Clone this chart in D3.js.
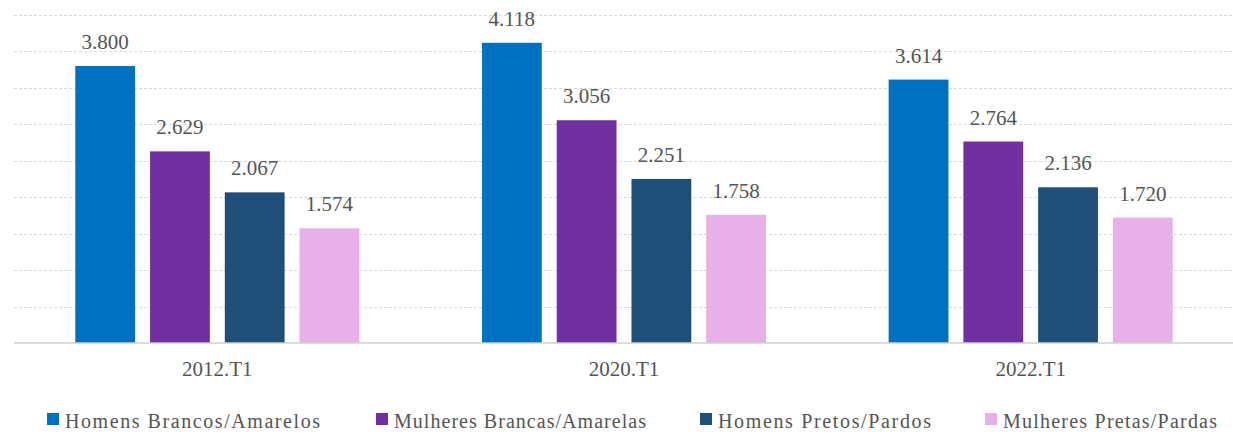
<!DOCTYPE html>
<html>
<head>
<meta charset="utf-8">
<script src="https://cdn.jsdelivr.net/npm/d3@7"></script>
</head>
<body style="margin:0">
<svg id="chart" width="1233" height="435"></svg>
<script>
const categories = ["2012.T1", "2020.T1", "2022.T1"];
const seriesNames = ["Homens Brancos/Amarelos", "Mulheres Brancas/Amarelas", "Homens Pretos/Pardos", "Mulheres Pretas/Pardas"];
const homensBrancos = [3800, 4118, 3614];
const mulheresBrancas = [2629, 3056, 2764];
const homensPretos = [2067, 2251, 2136];
const mulheresPretas = [1574, 1758, 1720];
const seriesColors = ["#0070C0", "#7030A0", "#1F4E79", "#E8B0E8"];
const yTicks = [0, 500, 1000, 1500, 2000, 2500, 3000, 3500, 4000, 4500];

const seriesValues = [homensBrancos, mulheresBrancas, homensPretos, mulheresPretas];
const fmt = v => d3.format(",")(v).replace(/,/g, ".");
const FONT = '"Liberation Serif"';
const TXT = "#555555";

// layout constants
const plotLeft = 14, plotRight = 1234, plotTop = 15, plotBottom = 343;
const legendStart = [47, 376, 700, 985];
const legendTextLen = [255, 252, 213, 214];

const svg = d3.select("#chart");

const x0 = d3.scaleBand().domain(categories).range([plotLeft, plotRight]).padding(0);
const x1 = d3.scaleBand().domain(d3.range(seriesNames.length))
  .range([0, x0.bandwidth()]).paddingInner(0.2).paddingOuter(0.82);
const y = d3.scaleLinear().domain([0, 4500]).range([plotBottom, plotTop]);

// gridlines
svg.append("g").selectAll("line").data(yTicks.filter(t => t > 0)).join("line")
  .attr("x1", plotLeft).attr("x2", 1233)
  .attr("y1", d => Math.round(y(d)) + 0.5).attr("y2", d => Math.round(y(d)) + 0.5)
  .attr("stroke", "#d9d9d9").attr("stroke-width", 1).attr("stroke-dasharray", "3,2");

// bars
const groups = svg.append("g").selectAll("g").data(categories).join("g")
  .attr("transform", c => `translate(${x0(c)},0)`);

groups.selectAll("rect").data((c, ci) => seriesValues.map((vals, si) => ({si, v: vals[ci]}))).join("rect")
  .attr("x", d => x1(d.si)).attr("width", x1.bandwidth())
  .attr("y", d => y(d.v)).attr("height", d => y(0) - y(d.v))
  .attr("fill", d => seriesColors[d.si]);

groups.selectAll("text.val").data((c, ci) => seriesValues.map((vals, si) => ({si, v: vals[ci]}))).join("text")
  .attr("class", "val")
  .attr("x", d => x1(d.si) + x1.bandwidth() / 2)
  .attr("y", d => y(d.v) - 17)
  .attr("text-anchor", "middle")
  .attr("font-family", FONT).attr("font-size", 21)
  .attr("fill", TXT)
  .text(d => fmt(d.v));

// category labels
svg.append("g").selectAll("text").data(categories).join("text")
  .attr("x", c => x0(c) + x0.bandwidth() / 2)
  .attr("y", plotBottom + 33)
  .attr("text-anchor", "middle")
  .attr("font-family", FONT).attr("font-size", 21)
  .attr("fill", TXT)
  .text(c => c);

// baseline
svg.append("line").attr("x1", plotLeft).attr("x2", 1233)
  .attr("y1", plotBottom).attr("y2", plotBottom)
  .attr("stroke", "#d0d0d0").attr("stroke-width", 1.5);

// legend
const items = svg.append("g").selectAll("g").data(seriesNames).join("g")
  .attr("transform", (d, i) => `translate(${legendStart[i]},0)`);
items.append("rect").attr("width", 12).attr("height", 12).attr("y", 413)
  .attr("fill", (d, i) => seriesColors[i]);
items.append("text").attr("x", 18).attr("y", 428)
  .attr("font-family", FONT).attr("font-size", 20)
  .attr("fill", TXT)
  .attr("textLength", (d, i) => legendTextLen[i])
  .attr("lengthAdjust", "spacing")
  .text(d => d);
</script>
</body>
</html>
